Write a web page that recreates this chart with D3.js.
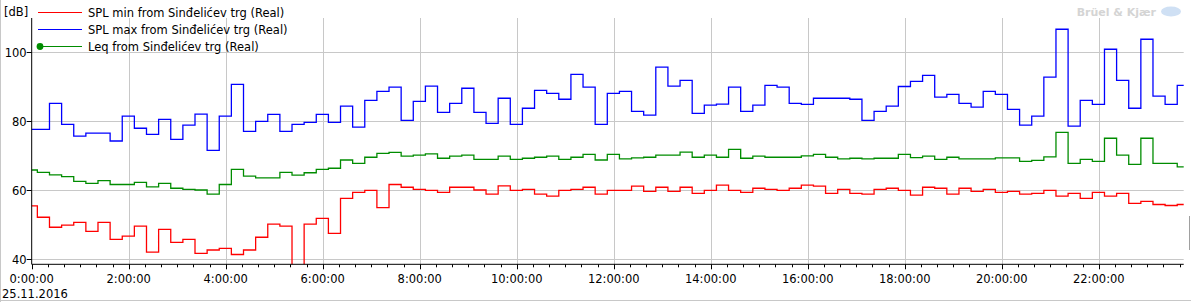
<!DOCTYPE html>
<html>
<head>
<meta charset="utf-8">
<script src="https://cdn.jsdelivr.net/npm/d3@7"></script>
<style>
  body { margin: 0; background: #fff; }
  svg text { font-family: "DejaVu Sans", Verdana, sans-serif; }
</style>
</head>
<body>
<div id="chart"></div>
<script>
// 15 minute intervals, first one starts 8 min before midnight
var intervalStart = -8, intervalLen = 15, viewEnd = 23 * 60 + 45;

var splMin = [55.4,52.1,49.2,49.8,50.6,48.0,50.6,45.7,46.6,49.5,42.0,48.6,44.8,45.7,41.6,42.6,43.1,41.3,42.6,46.3,50.1,49.5,30.0,50.1,
  51.8,47.4,57.6,59.3,59.9,54.9,61.6,60.8,60.2,59.9,59.3,60.8,60.8,60.0,58.8,61.2,59.9,60.2,58.8,58.2,59.9,60.2,60.8,58.8,
  59.9,59.9,61.1,59.6,60.8,59.6,60.8,59.0,59.9,61.4,59.9,59.3,60.5,60.2,59.9,60.5,61.4,61.1,59.0,60.2,59.0,58.8,60.2,60.5,
  59.9,58.5,60.8,60.5,58.8,60.5,59.6,60.2,59.3,59.6,58.8,59.0,59.9,58.2,59.0,57.6,59.3,58.2,59.0,56.1,56.7,55.8,55.5,55.8];

var splMax = [77.6,77.6,85.1,79.0,75.6,76.5,76.5,74.2,81.4,77.9,76.1,80.5,74.7,78.8,82.0,71.5,81.4,90.6,77.0,79.9,81.9,77.0,79.0,79.6,
  81.9,79.6,84.3,78.2,86.0,88.6,89.8,80.2,85.7,90.1,82.5,85.1,89.5,82.5,79.3,86.6,79.0,83.7,88.9,88.0,86.3,93.5,89.8,79.0,
  88.0,88.6,82.8,81.7,95.6,90.1,91.8,82.2,84.6,84.9,89.8,82.8,84.6,90.3,89.8,85.1,84.8,86.6,86.6,86.6,86.3,80.2,82.8,84.3,
  90.0,91.5,93.2,86.9,87.7,85.1,84.0,88.6,87.7,83.4,78.8,81.4,92.7,106.6,78.5,86.0,84.8,100.8,91.8,83.7,103.7,87.2,84.8,90.3];

var leq = [65.8,65.1,64.4,63.9,62.5,61.9,62.7,61.6,61.6,62.2,60.9,61.9,60.5,60.2,60.0,58.8,61.6,66.0,64.0,63.5,63.5,65.1,64.3,65.0,
  66.0,66.3,68.7,67.7,69.5,70.6,70.9,69.8,70.1,70.5,69.2,69.8,70.1,68.9,68.9,69.8,68.9,69.2,69.5,69.8,68.9,69.5,70.3,68.7,
  70.3,69.0,69.3,69.5,70.1,70.1,71.0,69.5,70.1,69.5,71.8,69.2,69.8,69.5,69.5,69.5,69.9,70.3,69.5,69.0,69.2,69.0,69.2,69.2,
  70.3,69.4,69.8,68.9,69.5,69.0,69.0,69.0,69.3,69.3,68.3,68.6,69.6,76.7,67.7,68.9,68.3,75.0,70.1,67.4,75.0,67.7,67.7,66.7];

var seriesNames = ["SPL min from Sinđelićev trg (Real)", "SPL max from Sinđelićev trg (Real)", "Leq from Sinđelićev trg (Real)"];
var seriesColors = ["#ff0000", "#0000ff", "#008c00"];
var yTicks = [40, 60, 80, 100];
var dateLabel = "25.11.2016";

var W = 1191, H = 302;
var plotL = 31.7, plotR = 1183.7, plotT = 18, plotB = 264.3;

var svg = d3.select("#chart").append("svg")
    .attr("width", W)
    .attr("height", H);

var x = d3.scaleLinear().domain([0, viewEnd]).range([plotL, plotR]);
var y = d3.scaleLinear().domain([38.46, 109.86]).range([plotB, plotT]);

// frame
svg.append("line").attr("x1", 0.5).attr("x2", 0.5).attr("y1", 0).attr("y2", H)
    .attr("stroke", "#c8c8c8");
svg.append("line").attr("x1", 0).attr("x2", W).attr("y1", H - 1.5).attr("y2", H - 1.5)
    .attr("stroke", "#c8c8c8");
svg.append("line").attr("x1", W - 1.5).attr("x2", W - 1.5).attr("y1", 216).attr("y2", 250)
    .attr("stroke", "#a0a0a0");

// grid
var hours = d3.range(120, viewEnd, 120);
svg.append("g").selectAll("line").data(hours).enter().append("line")
    .attr("x1", function(d) { return Math.round(x(d)) + 0.5; })
    .attr("x2", function(d) { return Math.round(x(d)) + 0.5; })
    .attr("y1", plotT).attr("y2", plotB)
    .attr("stroke", "#c8c8c8");
svg.append("g").selectAll("line").data(yTicks).enter().append("line")
    .attr("x1", plotL).attr("x2", plotR)
    .attr("y1", function(d) { return Math.round(y(d)) + 0.5; })
    .attr("y2", function(d) { return Math.round(y(d)) + 0.5; })
    .attr("stroke", "#c8c8c8");

// series
svg.append("clipPath").attr("id", "plot").append("rect")
    .attr("x", plotL).attr("y", plotT).attr("width", plotR - plotL).attr("height", plotB - plotT);

function stepPoints(vals) {
  var pts = vals.map(function(v, i) { return [intervalStart + i * intervalLen, v]; });
  pts.push([intervalStart + vals.length * intervalLen, vals[vals.length - 1]]);
  return pts;
}
var line = d3.line()
    .x(function(d) { return x(d[0]); })
    .y(function(d) { return y(d[1]); })
    .curve(d3.curveStepAfter);

var gLines = svg.append("g").attr("clip-path", "url(#plot)");
[[leq, 2], [splMax, 1], [splMin, 0]].forEach(function(s) {
  gLines.append("path")
      .attr("d", line(stepPoints(s[0])))
      .attr("fill", "none")
      .attr("stroke", seriesColors[s[1]])
      .attr("stroke-width", 1.3);
});

// y axis
svg.append("line").attr("x1", plotL).attr("x2", plotL).attr("y1", plotT).attr("y2", plotB)
    .attr("stroke", "#000");
var yt = svg.append("g").selectAll("g").data(yTicks).enter().append("g")
    .attr("transform", function(d) { return "translate(0," + (Math.round(y(d)) + 0.5) + ")"; });
yt.append("line").attr("x1", plotL - 5).attr("x2", plotL).attr("stroke", "#000");
yt.append("text").attr("x", plotL - 5).attr("dy", "0.35em").attr("text-anchor", "end")
    .attr("font-size", 11.5).attr("fill", "#000").text(function(d) { return d; });

// x axis
svg.append("line").attr("x1", plotL).attr("x2", plotR).attr("y1", plotB).attr("y2", plotB)
    .attr("stroke", "#000");
var minor = d3.range(0, viewEnd + 1, 20);
svg.append("g").selectAll("line").data(minor).enter().append("line")
    .attr("x1", function(d) { return Math.round(x(d)) + 0.5; })
    .attr("x2", function(d) { return Math.round(x(d)) + 0.5; })
    .attr("y1", plotB)
    .attr("y2", function(d) { return d % 120 === 0 ? plotB + 5 : plotB + 3; })
    .attr("stroke", "#000");
svg.append("g").selectAll("text").data(d3.range(0, viewEnd, 120)).enter().append("text")
    .attr("x", function(d) { return x(d); })
    .attr("y", 282.5)
    .attr("text-anchor", "middle")
    .attr("font-size", 11.5)
    .attr("fill", "#000")
    .text(function(d) { return (d / 60) + ":00:00"; });
svg.append("text").attr("x", 2).attr("y", 298).attr("font-size", 11.5).attr("fill", "#000")
    .text(dateLabel);

// unit
svg.append("text").attr("x", 4).attr("y", 16).attr("font-size", 11.5).attr("fill", "#000").text("[dB]");

// legend
var leg = svg.append("g").selectAll("g").data(seriesNames).enter().append("g")
    .attr("transform", function(d, i) { return "translate(0," + [12.5, 29.5, 46.5][i] + ")"; });
leg.append("line").attr("x1", 38).attr("x2", 82)
    .attr("stroke", function(d, i) { return seriesColors[i]; }).attr("stroke-width", 1);
leg.append("text").attr("x", 88).attr("dy", "0.35em").attr("font-size", 11.5).attr("fill", "#000")
    .text(function(d) { return d; });
svg.append("circle").attr("cx", 40).attr("cy", 46.5).attr("r", 3.4).attr("fill", seriesColors[2]);

// watermark
svg.append("text").attr("x", 1156).attr("y", 16).attr("text-anchor", "end")
    .attr("font-size", 11).attr("font-weight", "bold")
    .attr("fill", "#d4d4d4").text("Brüel & Kjær");
svg.append("ellipse").attr("cx", 1171).attr("cy", 11.5).attr("rx", 10).attr("ry", 5)
    .attr("fill", "#cfe0f4");
</script>
</body>
</html>
